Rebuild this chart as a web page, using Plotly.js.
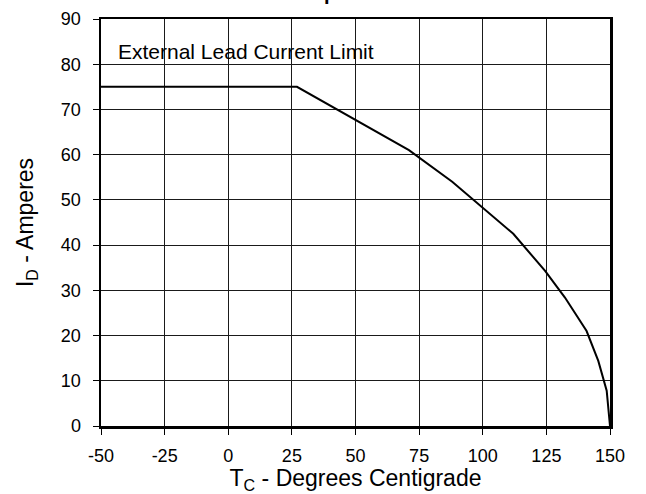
<!DOCTYPE html>
<html>
<head>
<meta charset="utf-8">
<script src="https://cdn.plot.ly/plotly-3.0.1.min.js"></script>
<style>
  html, body { margin: 0; padding: 0; background: #ffffff; }
  #chart { width: 646px; height: 494px; }
</style>
</head>
<body>
<div id="chart"></div>
<script>
// Case temperature (degrees C) and maximum drain current (A)
const caseTemp = [-50, 27, 71, 88, 112, 124.5, 132.3, 140.8, 145.4, 148.7, 150];
const drainCurrent = [75, 75, 61, 54, 42.5, 34.3, 28.4, 21, 14.4, 7.8, 0];

const xTicks = [-50, -25, 0, 25, 50, 75, 100, 125, 150];
const yTicks = [0, 10, 20, 30, 40, 50, 60, 70, 80, 90];

const titleText = '<b>Temperature</b>';
const noteText = 'External Lead Current Limit';
const xTitle = 'T<sub>C</sub> - Degrees Centigrade';
const yTitle = 'I<sub>D</sub> - Amperes';

const FONT = 'Liberation Sans, Arial, Helvetica, sans-serif';

const trace = {
  x: caseTemp,
  y: drainCurrent,
  type: 'scatter',
  mode: 'lines',
  line: { color: '#000000', width: 2 },
  hoverinfo: 'skip',
  showlegend: false
};

const axisCommon = {
  showline: true,
  linecolor: '#000000',
  linewidth: 2.5,
  mirror: true,
  showgrid: true,
  gridcolor: '#1a1a1a',
  gridwidth: 1,
  zeroline: false,
  ticks: 'outside',
  ticklen: 6,
  tickwidth: 1,
  tickcolor: '#000000',
  tickfont: { family: FONT, size: 18, color: '#000000' },
  fixedrange: true
};

const layout = {
  width: 646,
  height: 494,
  paper_bgcolor: '#ffffff',
  plot_bgcolor: '#ffffff',
  margin: { l: 101, r: 36, t: 19, b: 68 },
  title: {
    text: titleText,
    font: { family: FONT, size: 20, color: '#000000' },
    x: 0.533, xanchor: 'center', xref: 'container',
    y: 1, yanchor: 'bottom', yref: 'container'
  },
  xaxis: Object.assign({}, axisCommon, {
    range: [-50, 150],
    tickmode: 'array',
    tickvals: xTicks,
    ticktext: xTicks.map(String),
    ticklabelstandoff: 6,
    title: {
      text: xTitle,
      font: { family: FONT, size: 23, color: '#000000' },
      standoff: 7
    }
  }),
  yaxis: Object.assign({}, axisCommon, {
    range: [0, 90],
    tickmode: 'array',
    tickvals: yTicks,
    ticktext: yTicks.map(String),
    ticklabelstandoff: 8,
    title: {
      text: yTitle,
      font: { family: FONT, size: 23, color: '#000000' },
      standoff: 21
    }
  }),
  shapes: [{
    type: 'rect',
    xref: 'paper', yref: 'paper',
    x0: 0, x1: 0.585, y0: 0.875, y1: 0.975,
    fillcolor: '#ffffff',
    line: { width: 0 },
    layer: 'between'
  }],
  annotations: [{
    text: noteText,
    xref: 'paper', yref: 'paper',
    x: 0.0295, y: 0.919,
    xanchor: 'left', yanchor: 'middle',
    showarrow: false,
    font: { family: FONT, size: 21, color: '#000000' }
  }]
};

Plotly.newPlot('chart', [trace], layout, { displayModeBar: false, staticPlot: true });
</script>
</body>
</html>
